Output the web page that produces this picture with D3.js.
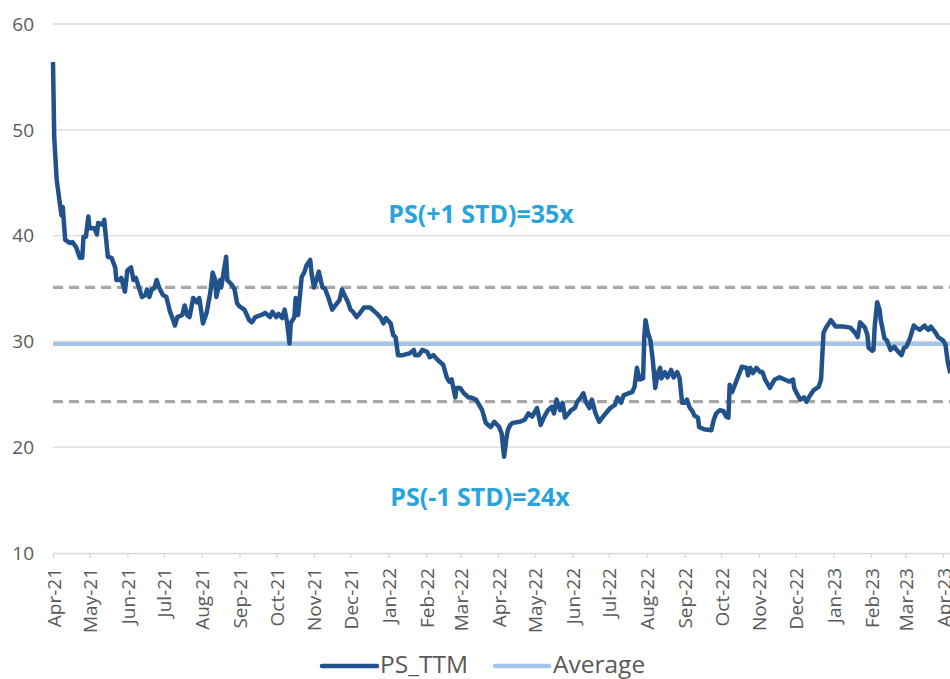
<!DOCTYPE html>
<html>
<head>
<meta charset="utf-8">
<script src="https://cdn.jsdelivr.net/npm/d3@7"></script>
<style>
  html, body { margin: 0; padding: 0; background: #fff; }
  svg { display: block; font-family: "Open Sans", "Noto Sans", sans-serif; }
</style>
</head>
<body>
<svg id="chart" width="950" height="679"></svg>
<script>
// ---------------- data ----------------
const dates = [
"2021-04-01","2021-04-02","2021-04-04","2021-04-07","2021-04-08","2021-04-09","2021-04-11","2021-04-15","2021-04-17","2021-04-20",
"2021-04-23","2021-04-25","2021-04-26","2021-04-28","2021-04-30","2021-05-01","2021-05-05","2021-05-07","2021-05-08","2021-05-12",
"2021-05-13","2021-05-16","2021-05-19","2021-05-22","2021-05-23","2021-05-26","2021-05-27","2021-05-30","2021-06-01","2021-06-04",
"2021-06-06","2021-06-08","2021-06-11","2021-06-13","2021-06-16","2021-06-17","2021-06-19","2021-06-21","2021-06-23","2021-06-25",
"2021-06-27","2021-06-30","2021-07-03","2021-07-06","2021-07-08","2021-07-10","2021-07-12","2021-07-16","2021-07-18","2021-07-20",
"2021-07-22","2021-07-25","2021-07-28","2021-07-30","2021-08-02","2021-08-05","2021-08-08","2021-08-10","2021-08-12","2021-08-13",
"2021-08-16","2021-08-17","2021-08-21","2021-08-22","2021-08-26","2021-08-28","2021-08-30","2021-09-01","2021-09-05","2021-09-09",
"2021-09-11","2021-09-14","2021-09-19","2021-09-22","2021-09-26","2021-09-28","2021-10-01","2021-10-03","2021-10-06","2021-10-08",
"2021-10-10","2021-10-12","2021-10-13","2021-10-16","2021-10-17","2021-10-19","2021-10-22","2021-10-24","2021-10-26","2021-10-29",
"2021-10-30","2021-11-01","2021-11-03","2021-11-05","2021-11-08","2021-11-10","2021-11-13","2021-11-16","2021-11-18","2021-11-22",
"2021-11-24","2021-11-26","2021-11-29","2021-12-01","2021-12-03","2021-12-06","2021-12-09","2021-12-12","2021-12-17","2021-12-22",
"2021-12-26","2021-12-28","2021-12-30","2022-01-03","2022-01-05","2022-01-07","2022-01-09","2022-01-13","2022-01-19","2022-01-22",
"2022-01-23","2022-01-26","2022-01-29","2022-02-02","2022-02-04","2022-02-07","2022-02-11","2022-02-15","2022-02-18","2022-02-20",
"2022-02-22","2022-02-25","2022-02-26","2022-03-01","2022-03-04","2022-03-08","2022-03-10","2022-03-14","2022-03-19","2022-03-22",
"2022-03-24","2022-03-26","2022-03-29","2022-04-02","2022-04-04","2022-04-06","2022-04-08","2022-04-09","2022-04-11","2022-04-13",
"2022-04-19","2022-04-23","2022-04-26","2022-04-29","2022-05-01","2022-05-03","2022-05-06","2022-05-09","2022-05-12","2022-05-15",
"2022-05-17","2022-05-19","2022-05-22","2022-05-24","2022-05-26","2022-05-29","2022-05-31","2022-06-03","2022-06-05","2022-06-08",
"2022-06-10","2022-06-12","2022-06-15","2022-06-17","2022-06-20","2022-06-23","2022-06-27","2022-07-02","2022-07-06","2022-07-08",
"2022-07-11","2022-07-13","2022-07-17","2022-07-20","2022-07-22","2022-07-24","2022-07-26","2022-07-29","2022-07-30","2022-07-31",
"2022-08-02","2022-08-04","2022-08-06","2022-08-08","2022-08-10","2022-08-12","2022-08-13","2022-08-16","2022-08-18","2022-08-21",
"2022-08-23","2022-08-26","2022-08-28","2022-08-30","2022-09-01","2022-09-03","2022-09-05","2022-09-08","2022-09-09","2022-09-12",
"2022-09-13","2022-09-17","2022-09-23","2022-09-25","2022-09-27","2022-09-30","2022-10-03","2022-10-05","2022-10-07","2022-10-08",
"2022-10-10","2022-10-13","2022-10-16","2022-10-18","2022-10-22","2022-10-23","2022-10-25","2022-10-27","2022-10-30","2022-11-02",
"2022-11-04","2022-11-06","2022-11-10","2022-11-14","2022-11-18","2022-11-22","2022-11-26","2022-11-29","2022-11-30","2022-12-02",
"2022-12-05","2022-12-08","2022-12-10","2022-12-13","2022-12-16","2022-12-20","2022-12-22","2022-12-24","2022-12-26","2022-12-30",
"2023-01-03","2023-01-09","2023-01-15","2023-01-19","2023-01-21","2023-01-23","2023-01-27","2023-01-29","2023-01-30","2023-02-02",
"2023-02-03","2023-02-04","2023-02-06","2023-02-08","2023-02-09","2023-02-12","2023-02-14","2023-02-16","2023-02-17","2023-02-20",
"2023-02-22","2023-02-26","2023-02-28","2023-03-02","2023-03-05","2023-03-08","2023-03-10","2023-03-13","2023-03-17","2023-03-18",
"2023-03-20","2023-03-22","2023-03-26","2023-03-28","2023-04-01","2023-04-03","2023-04-05","2023-04-07"
];
const psTTM = [
56.4,49.3,45.3,42.7,41.9,42.7,39.6,39.3,39.4,38.9,
37.9,37.9,39.9,39.9,41.8,40.7,40.7,40.1,41.2,41.0,
41.5,38.0,37.9,37.0,35.8,35.8,36.0,34.7,36.7,37.0,
35.8,36.0,34.9,34.2,34.4,34.9,34.2,34.9,35.0,35.8,
35.1,34.4,34.2,32.8,32.2,31.5,32.3,32.5,33.4,32.5,
32.3,34.1,33.7,34.1,31.7,32.7,34.6,36.5,35.8,34.2,
35.8,35.1,38.0,35.8,35.3,34.9,33.6,33.3,33.0,32.0,
31.8,32.3,32.5,32.7,32.3,32.8,32.3,32.6,32.2,33.0,
31.8,29.8,31.7,32.3,34.1,32.5,36.1,36.5,37.2,37.7,
36.5,35.1,35.8,36.6,35.1,35.0,34.1,33.0,33.3,33.9,
34.9,34.4,33.7,33.0,32.8,32.3,32.7,33.2,33.2,32.7,
32.2,31.7,32.2,31.7,30.6,30.4,28.7,28.7,28.9,29.2,
28.7,28.7,29.2,29.0,28.5,28.7,28.2,27.8,26.6,26.2,
26.4,24.7,25.6,25.6,25.1,24.7,24.7,24.5,23.5,22.3,
22.1,21.9,22.4,21.9,21.3,19.1,20.9,21.6,22.1,22.3,
22.4,22.6,23.2,22.9,23.3,23.7,22.1,22.9,23.5,23.8,
23.2,24.5,23.5,24.2,22.8,23.2,23.5,23.7,24.3,24.7,
25.1,24.3,23.7,24.5,23.2,22.4,23.0,23.7,24.0,24.7,
24.2,24.9,25.1,25.2,25.7,27.5,26.4,26.5,30.4,32.0,
30.8,30.1,28.2,25.6,27.0,27.5,26.5,27.1,26.6,27.3,
26.6,27.1,26.5,24.2,24.2,24.5,23.8,23.3,23.0,22.8,
21.9,21.7,21.6,22.6,23.2,23.5,23.4,22.9,22.8,25.9,
25.2,26.1,27.0,27.6,27.5,26.8,27.5,27.0,27.5,27.1,
27.1,26.4,25.6,26.4,26.6,26.4,26.2,26.4,25.6,25.1,
24.5,24.7,24.3,24.9,25.4,25.7,26.4,30.8,31.3,32.0,
31.4,31.4,31.3,30.8,30.4,31.8,31.3,30.6,29.4,29.1,
29.2,31.4,33.7,33.0,32.0,30.3,30.1,29.5,29.2,29.5,
29.2,28.7,29.4,29.5,30.3,31.5,31.3,31.1,31.5,31.3,
31.1,31.4,30.8,30.4,30.1,29.7,28.0,27.0
];
const averageValue = 29.75;
const plusStdValue = 35.1;
const minusStdValue = 24.3;
const yTicks = [10, 20, 30, 40, 50, 60];
const plusLabel = "PS(+1 STD)=35x";
const minusLabel = "PS(-1 STD)=24x";
const seriesNames = ["PS_TTM", "Average"];

// ---------------- drawing ----------------
(function draw() {
  const svg = d3.select("#chart");
  const parse = d3.utcParse("%Y-%m-%d");
  const data = dates.map((d, i) => ({ date: parse(d), value: psTTM[i] }));

  const pLeft = 53, pRight = 950.3, pTop = 24, pBottom = 553;
  const x = d3.scaleUtc()
    .domain([parse("2021-04-01"), parse("2023-04-07")])
    .range([pLeft, pRight]);
  const y = d3.scaleLinear().domain([10, 60]).range([pBottom, pTop]);

  const colLine = "#22528b";
  const colAvg = "#a4c4e8";
  const colGrid = "#d9d9d9";
  const colDash = "#a6a6a6";
  const colText = "#595959";
  const colLabel = "#27a4dd";

  // gridlines
  svg.append("g").selectAll("line")
    .data(yTicks.filter(t => t > 10))
    .join("line")
    .attr("x1", pLeft).attr("x2", 950)
    .attr("y1", d => y(d)).attr("y2", d => y(d))
    .attr("stroke", colGrid).attr("stroke-width", 1.3);

  // y tick labels
  svg.append("g").selectAll("text")
    .data(yTicks)
    .join("text")
    .attr("x", 34).attr("y", d => y(d))
    .attr("dy", "0.36em")
    .attr("text-anchor", "end")
    .attr("font-size", 19)
    .attr("fill", colText)
    .text(d => d);

  // x axis
  const xAxis = d3.axisBottom(x)
    .ticks(d3.utcMonth.every(1))
    .tickFormat(d3.utcFormat("%b-%y"))
    .tickSizeInner(5).tickSizeOuter(0);
  const gx = svg.append("g").attr("transform", `translate(0,${pBottom})`).call(xAxis);
  gx.select(".domain").attr("stroke", colGrid).attr("stroke-width", 1.5);
  gx.selectAll(".tick line").attr("stroke", colGrid).attr("stroke-width", 1.3);
  gx.selectAll(".tick text")
    .attr("font-family", "'Open Sans', 'Noto Sans', sans-serif")
    .attr("font-size", 19)
    .attr("fill", colText)
    .attr("text-anchor", "end")
    .attr("transform", "rotate(-90)")
    .attr("x", -15).attr("y", 0).attr("dy", "0.37em");

  // std dashed lines
  svg.append("g").selectAll("line")
    .data([plusStdValue, minusStdValue])
    .join("line")
    .attr("x1", pLeft).attr("x2", 950)
    .attr("y1", d => y(d)).attr("y2", d => y(d))
    .attr("stroke", colDash).attr("stroke-width", 3.2)
    .attr("stroke-dasharray", "10,6");

  // average line
  svg.append("line")
    .attr("x1", pLeft).attr("x2", 950)
    .attr("y1", y(averageValue)).attr("y2", y(averageValue))
    .attr("stroke", colAvg).attr("stroke-width", 4);

  // clip for series
  svg.append("clipPath").attr("id", "clip")
    .append("rect").attr("x", pLeft - 5).attr("y", 0).attr("width", 950 - pLeft + 5).attr("height", 679);

  const line = d3.line().x(d => x(d.date)).y(d => y(d.value));
  svg.append("path")
    .datum(data)
    .attr("clip-path", "url(#clip)")
    .attr("d", line)
    .attr("fill", "none")
    .attr("stroke", colLine)
    .attr("stroke-width", 4.5)
    .attr("stroke-linejoin", "round")
    .attr("stroke-linecap", "butt");

  // annotation labels
  svg.append("text")
    .attr("x", 481).attr("y", 223)
    .attr("text-anchor", "middle")
    .attr("font-size", 25).attr("font-weight", "bold")
    .attr("fill", colLabel)
    .text(plusLabel);
  svg.append("text")
    .attr("x", 480).attr("y", 506)
    .attr("text-anchor", "middle")
    .attr("font-size", 25).attr("font-weight", "bold")
    .attr("fill", colLabel)
    .text(minusLabel);

  // legend
  const legend = svg.append("g");
  const legItems = [
    { name: seriesNames[0], color: colLine, x1: 322, x2: 377, tx: 380 },
    { name: seriesNames[1], color: colAvg, x1: 495, x2: 549, tx: 553 }
  ];
  legItems.forEach(it => {
    legend.append("line")
      .attr("x1", it.x1).attr("x2", it.x2)
      .attr("y1", 666).attr("y2", 666)
      .attr("stroke", it.color).attr("stroke-width", 4.5)
      .attr("stroke-linecap", "round");
    legend.append("text")
      .attr("x", it.tx).attr("y", 673)
      .attr("font-size", 24.5)
      .attr("fill", colText)
      .text(it.name);
  });
})();
</script>
</body>
</html>
